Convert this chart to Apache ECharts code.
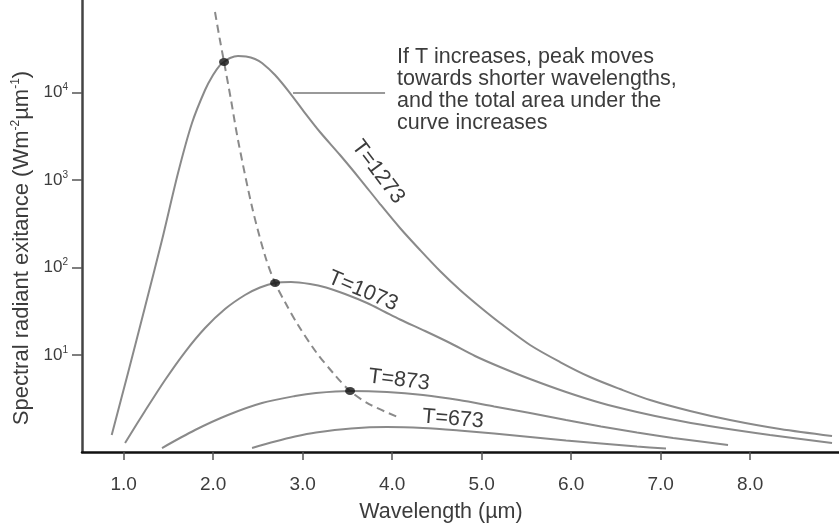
<!DOCTYPE html>
<html><head><meta charset="utf-8">
<script src="https://cdn.jsdelivr.net/npm/echarts@6/dist/echarts.min.js"></script>
<style>html,body{margin:0;padding:0;background:#fff}#c{width:839px;height:524px}</style>
</head><body><div id="c"></div><script>
// Wavelength tick labels (µm) and spectral radiant exitance ticks
const xTicks = [1, 2, 3, 4, 5, 6, 7, 8];
const yTicks = [10, 100, 1000, 10000];

// Curves: [wavelength µm, exitance]
const t1273 = [[0.867,1.220],[1.049,6.23],[1.239,35.34],[1.429,205.8],[1.608,1198],[1.764,4461],[1.910,10622],[1.999,15757],[2.077,20496],[2.122,22182],[2.189,24643],[2.278,25972],[2.368,25634],[2.468,24003],[2.546,21608],[2.692,15757],[2.859,9817],[3.027,5801],[3.194,3521],[3.418,1923],[3.641,1023],[3.865,530.2],[4.088,282.1],[4.312,158.2],[4.535,91.07],[4.759,55.25],[4.982,35.34],[5.206,23.20],[5.541,13.01],[5.876,8.32],[6.211,5.61],[6.546,4.09],[6.882,3.063],[7.329,2.294],[7.775,1.811],[8.334,1.429],[8.915,1.189]];
const t1073 = [[1.016,0.989],[1.239,2.294],[1.463,5.184],[1.686,10.82],[1.910,20.34],[2.133,33.52],[2.356,48.45],[2.524,59.01],[2.692,66.43],[2.870,68.19],[3.083,64.71],[3.262,59.01],[3.474,49.74],[3.720,39.26],[3.921,30.98],[4.088,25.44],[4.368,18.80],[4.647,13.71],[4.926,9.743],[5.206,7.297],[5.541,5.321],[5.943,3.781],[6.334,2.831],[6.736,2.235],[7.105,1.859],[7.541,1.546],[8.222,1.220],[8.915,0.989]];
const t873 = [[1.429,0.867],[1.798,1.392],[2.166,2.065],[2.546,2.831],[2.915,3.403],[3.150,3.683],[3.530,3.882],[3.943,3.781],[4.345,3.494],[4.747,3.063],[5.140,2.582],[5.541,2.176],[5.943,1.811],[6.334,1.526],[6.736,1.303],[7.139,1.128],[7.753,0.938]];
const t673 = [[2.435,0.867],[2.692,1.029],[2.915,1.173],[3.150,1.303],[3.541,1.448],[3.943,1.506],[4.345,1.467],[4.747,1.374],[5.140,1.270],[5.541,1.158],[5.943,1.056],[6.334,0.976],[6.736,0.902],[7.060,0.856]];
const peakLocus = [[2.021,82600],[2.072,41700],[2.122,22182],[2.200,8170],[2.278,2853],[2.435,490.0],[2.581,135.1],[2.692,66.43],[2.815,38.23],[2.949,22.01],[3.150,10.82],[3.351,6.068],[3.530,3.882],[3.742,2.757],[4.088,1.908]];
const peaks = [[2.122,22182],[2.692,66.43],[3.530,3.882]];
const leader = [[2.893,9820],[3.921,9820]];

const FONT = 'Liberation Sans, Arial, sans-serif';
const TXT = '#3c3c3c';
const CURVE = '#8a8a8a';

function curve(name, data) {
  return {name, type:'line', data, smooth:0.3, showSymbol:false, silent:true,
    lineStyle:{color:CURVE, width:2}, z:2};
}
function label(text, x, y, rot) {
  return {type:'text', x, y, rotation:rot, style:{text, font:'21.5px ' + FONT, fill:TXT,
    align:'center', verticalAlign:'middle', textAlign:'center', textVerticalAlign:'middle'}};
}

const chart = echarts.init(document.getElementById('c'));
chart.setOption({
  animation:false,
  backgroundColor:'#fff',
  grid:{left:82, right:0, top:0, bottom:72, containLabel:false, outerBoundsMode:'none'},
  xAxis:{type:'value', min:0.535, max:8.993,
    axisLine:{show:true, onZero:false, lineStyle:{color:'#111', width:2.5}},
    axisTick:{show:true, customValues:xTicks, length:8, lineStyle:{color:'#555', width:1.5}},
    axisLabel:{customValues:xTicks, formatter:v=>v.toFixed(1), margin:23, fontSize:19, color:TXT, fontFamily:FONT},
    splitLine:{show:false}},
  yAxis:{type:'log', logBase:10, min:0.7806, max:113300,
    axisLine:{show:true, lineStyle:{color:'#444', width:2.5}},
    axisTick:{show:true, customValues:yTicks, length:10, lineStyle:{color:'#555', width:1.5}},
    axisLabel:{customValues:yTicks, margin:14,
      formatter:v=>'{a|10}{s|' + Math.round(Math.log10(v)) + '}',
      rich:{a:{fontSize:17, color:TXT, fontFamily:FONT, lineHeight:20},
            s:{fontSize:10, color:TXT, fontFamily:FONT, verticalAlign:'top', lineHeight:20, padding:[0,0,10,0]}}},
    splitLine:{show:false}, minorTick:{show:false}},
  series:[
    curve('T=1273', t1273),
    curve('T=1073', t1073),
    curve('T=873', t873),
    curve('T=673', t673),
    {name:'peak locus', type:'line', data:peakLocus, smooth:0.3, showSymbol:false, silent:true,
      lineStyle:{color:'#8a8a8a', width:2, type:[8,5]}, z:3},
    {name:'leader', type:'line', data:leader, showSymbol:false, silent:true,
      lineStyle:{color:'#777', width:1.5}, z:2},
    {name:'peaks', type:'scatter', data:peaks, symbol:'circle', symbolSize:[10,8], silent:true,
      itemStyle:{color:'#111'}, z:5}
  ],
  graphic:[
    {type:'text', x:397, y:46, style:{text:'If T increases, peak moves\ntowards shorter wavelengths,\nand the total area under the\ncurve increases',
      font:'21.5px ' + FONT, lineHeight:22, fill:TXT}},
    label('T=1273', 378, 172, -0.925),
    label('T=1073', 363, 291, -0.40),
    label('T=873', 399, 380, -0.12),
    label('T=673', 453, 419, -0.08),
    {type:'text', x:441, y:512, style:{text:'Wavelength (µm)', font:'21.5px ' + FONT, fill:TXT, align:'center', verticalAlign:'middle', textAlign:'center', textVerticalAlign:'middle'}},
    {type:'text', x:22, y:248, rotation:Math.PI/2, style:{text:'{a|Spectral radiant exitance (Wm}{s|-2}{a|µm}{s|-1}{a|)}',
      align:'center', verticalAlign:'middle', textAlign:'center', textVerticalAlign:'middle',
      rich:{a:{fontSize:22, fontFamily:FONT, fill:TXT, color:TXT, lineHeight:24},
            s:{fontSize:12, fontFamily:FONT, fill:TXT, color:TXT, verticalAlign:'top', lineHeight:24, padding:[0,0,11,0]}}}}
  ]
});
</script></body></html>
